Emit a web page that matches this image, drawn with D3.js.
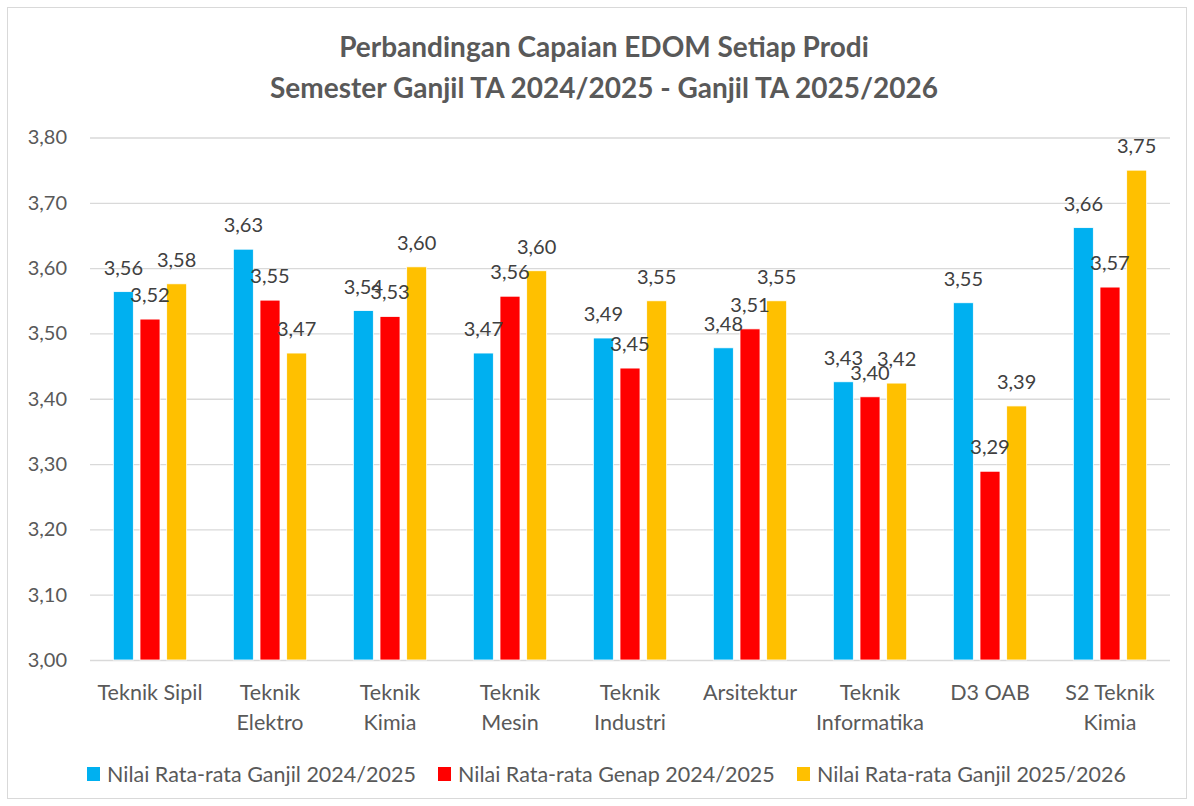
<!DOCTYPE html>
<html>
<head>
<meta charset="utf-8">
<script src="https://cdn.jsdelivr.net/npm/d3@7"></script>
<style>
  html, body { margin: 0; padding: 0; background: #fff; }
  svg { display: block; font-family: Lato, "Open Sans", sans-serif; }
</style>
</head>
<body>
<div id="chart"></div>
<script>
const categories = ['Teknik Sipil', 'Teknik Elektro', 'Teknik Kimia', 'Teknik Mesin', 'Teknik Industri',
  'Arsitektur', 'Teknik Informatika', 'D3 OAB', 'S2 Teknik Kimia'];
// how Excel wrapped the category labels
const categoryLines = [['Teknik Sipil'], ['Teknik', 'Elektro'], ['Teknik', 'Kimia'], ['Teknik', 'Mesin'],
  ['Teknik', 'Industri'], ['Arsitektur'], ['Teknik', 'Informatika'], ['D3 OAB'], ['S2 Teknik', 'Kimia']];
const seriesNames = ['Nilai Rata-rata Ganjil 2024/2025', 'Nilai Rata-rata Genap 2024/2025', 'Nilai Rata-rata Ganjil 2025/2026'];
const ganjil2425 = [3.564, 3.629, 3.535, 3.470, 3.493, 3.478, 3.426, 3.547, 3.662];
const genap2425 = [3.522, 3.551, 3.526, 3.557, 3.447, 3.507, 3.403, 3.289, 3.571];
const ganjil2526 = [3.576, 3.470, 3.602, 3.596, 3.550, 3.550, 3.424, 3.389, 3.750];
const yTicks = [3.0, 3.1, 3.2, 3.3, 3.4, 3.5, 3.6, 3.7, 3.8];
const colors = ['#00B0F0', '#FF0000', '#FFC000'];

const W = 1194, H = 806;
const plot = { left: 90, right: 1170, top: 137.5, bottom: 660 };

const svg = d3.select('#chart').append('svg').attr('width', W).attr('height', H);

// chart frame
svg.append('rect').attr('x', 7.5).attr('y', 7.5).attr('width', W - 15).attr('height', H - 15)
  .attr('fill', '#fff').attr('stroke', '#d9d9d9').attr('stroke-width', 1);

// title
const title = svg.append('text').attr('text-anchor', 'middle').attr('fill', '#595959')
  .attr('font-weight', 'bold').attr('font-size', 28);
title.append('tspan').attr('x', 604).attr('y', 57).text('Perbandingan Capaian EDOM Setiap Prodi');
title.append('tspan').attr('x', 604).attr('y', 98).text('Semester Ganjil TA 2024/2025 - Ganjil TA 2025/2026');

const y = d3.scaleLinear().domain([3.0, 3.8]).range([plot.bottom, plot.top]);
const x0 = d3.scaleBand().domain(categories).range([plot.left, plot.right])
  .paddingInner(1 / 3).paddingOuter(1 / 6);
const x1 = d3.scaleBand().domain(d3.range(3)).range([0, x0.bandwidth()])
  .paddingInner(0.25).paddingOuter(0.125);

// y axis + gridlines
const fmt = v => d3.format('.2f')(v).replace('.', ',');
const yAxis = svg.append('g').attr('transform', `translate(${plot.left},0)`)
  .call(d3.axisLeft(y).tickValues(yTicks).tickSize(-(plot.right - plot.left)).tickPadding(23).tickFormat(fmt));
yAxis.select('.domain').remove();
yAxis.selectAll('.tick line').attr('stroke', '#d9d9d9').attr('stroke-width', 1.3);
yAxis.selectAll('.tick text').attr('fill', '#595959').attr('font-size', 20)
  .attr('font-family', 'Lato, "Open Sans", sans-serif');

// x axis labels
const xAxis = svg.append('g').attr('transform', `translate(0,${plot.bottom})`)
  .call(d3.axisBottom(x0).tickSize(0).tickFormat(''));
xAxis.select('.domain').remove();
xAxis.selectAll('.tick').each(function (d, i) {
  const t = d3.select(this).append('text').attr('fill', '#595959').attr('font-size', 21.5)
    .attr('text-anchor', 'middle').attr('font-family', 'Lato, "Open Sans", sans-serif');
  categoryLines[i].forEach((line, k) => {
    t.append('tspan').attr('x', 0).attr('y', 40 + k * 30).text(line);
  });
});

// bars
const series = [ganjil2425, genap2425, ganjil2526];
const rows = [];
categories.forEach((c, i) => series.forEach((s, j) => rows.push({ c, j, v: s[i] })));

svg.append('g').selectAll('rect').data(rows).enter().append('rect')
  .attr('x', d => x0(d.c) + x1(d.j))
  .attr('y', d => y(d.v))
  .attr('width', x1.bandwidth())
  .attr('height', d => y(3.0) - y(d.v))
  .attr('fill', d => colors[d.j])
  .attr('stroke', '#fff').attr('stroke-width', 0.8);

// data labels
svg.append('g').selectAll('text').data(rows).enter().append('text')
  .attr('x', d => x0(d.c) + x1(d.j) + x1.bandwidth() / 2)
  .attr('y', d => y(d.v) - 17)
  .attr('text-anchor', 'middle').attr('font-size', 20).attr('fill', '#404040')
  .text(d => fmt(d.v));

// legend
const legendX = [87, 438, 797];
const legend = svg.append('g');
seriesNames.forEach((name, j) => {
  legend.append('rect').attr('x', legendX[j]).attr('y', 767).attr('width', 13).attr('height', 14)
    .attr('fill', colors[j]);
  legend.append('text').attr('x', legendX[j] + 20).attr('y', 782).attr('font-size', 21.5)
    .attr('fill', '#595959').text(name);
});
</script>
</body>
</html>
